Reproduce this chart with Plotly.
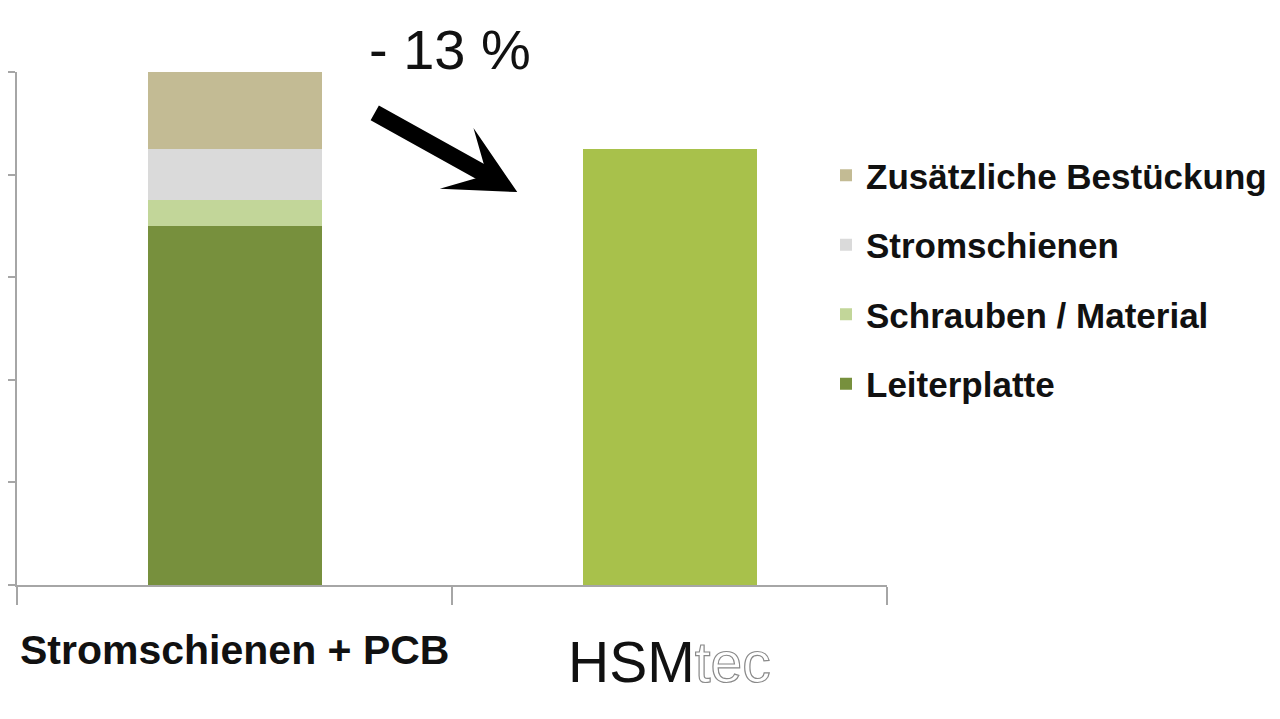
import plotly.graph_objects as go

categories = ["Stromschienen + PCB", "HSMtec"]
leiterplatte = [70, None]
schrauben = [5, None]
stromschienen = [10, None]
zusaetzlich = [15, None]
hsmtec = [None, 85]
reduction_label = "- 13 %"

colors = {
    "Leiterplatte": "#77903d",
    "Schrauben / Material": "#c2d699",
    "Stromschienen": "#dadada",
    "Zusätzliche Bestückung": "#c3bb94",
    "HSMtec": "#a8c14b",
}

SANS = "Liberation Sans, Arial, sans-serif"
W, H = 1272, 711  # page body has an 8px margin

fig = go.Figure()
series = [
    ("Leiterplatte", leiterplatte, 4),
    ("Schrauben / Material", schrauben, 3),
    ("Stromschienen", stromschienen, 2),
    ("Zusätzliche Bestückung", zusaetzlich, 1),
]
for name, vals, rank in series:
    fig.add_trace(go.Bar(
        x=categories, y=vals, name=name, legendgroup=name, legendrank=rank,
        marker=dict(color=colors[name], line=dict(width=0)),
    ))
fig.add_trace(go.Bar(
    x=categories, y=hsmtec, name="HSMtec", showlegend=False,
    marker=dict(color=colors["HSMtec"], line=dict(width=0)),
))

fig.update_layout(
    barmode="stack",
    bargap=0.6,
    width=W, height=H,
    margin=dict(l=9, r=393, t=64, b=134, autoexpand=False),
    plot_bgcolor="white", paper_bgcolor="white",
    showlegend=True,
    legend=dict(
        xref="container", yref="container",
        x=818/W, y=1-138/H, xanchor="left", yanchor="top",
        traceorder="grouped", tracegroupgap=21,
        font=dict(family=SANS, size=35, color="#111111", weight="bold"),
        bgcolor="rgba(0,0,0,0)",
    ),
    xaxis=dict(
        showline=True, linecolor="#a6a6a6", linewidth=1.5,
        ticks="outside", tickson="boundaries", ticklen=18, tickcolor="#a6a6a6", tickwidth=1.5,
        showticklabels=False, showgrid=False, zeroline=False,
    ),
    yaxis=dict(
        range=[0, 100], dtick=20,
        showline=True, linecolor="#a6a6a6", linewidth=1.5,
        ticks="outside", ticklen=12, tickcolor="#a6a6a6", tickwidth=1.5,
        showticklabels=False, showgrid=False, zeroline=False,
    ),
)

# small extension of the x axis line to the left
fig.add_shape(type="line", xref="paper", yref="paper", x0=-11/870, x1=0, y0=0, y1=0,
              line=dict(color="#a6a6a6", width=1.5))

# category labels
fig.add_annotation(
    x=categories[0], xref="x", y=-0.127, yref="paper", yanchor="middle",
    text="<b>" + categories[0] + "</b>", showarrow=False,
    font=dict(family=SANS, size=41, color="#111111"),
)
fig.add_annotation(
    x=categories[1], xref="x", y=-0.15, yref="paper", yanchor="middle",
    text=categories[1][:3] + "<span style='fill:#ffffff;stroke:#8a8a8a;stroke-width:1.2px'>" + categories[1][3:] + "</span>",
    showarrow=False,
    font=dict(family=SANS, size=57, color="#111111"),
)

# reduction label and arrow
fig.add_annotation(
    x=0.498, y=1.043, xref="paper", yref="paper", yanchor="middle",
    text=reduction_label, showarrow=False,
    font=dict(family=SANS, size=56, color="#111111"),
)
fig.add_annotation(
    x=0.575, y=0.766, xref="paper", yref="paper",
    ax=-144, ay=-80, text="", showarrow=True,
    arrowhead=3, arrowsize=0.68, arrowwidth=17, arrowcolor="#000000", standoff=0,
)

fig.write_html("out.html")
